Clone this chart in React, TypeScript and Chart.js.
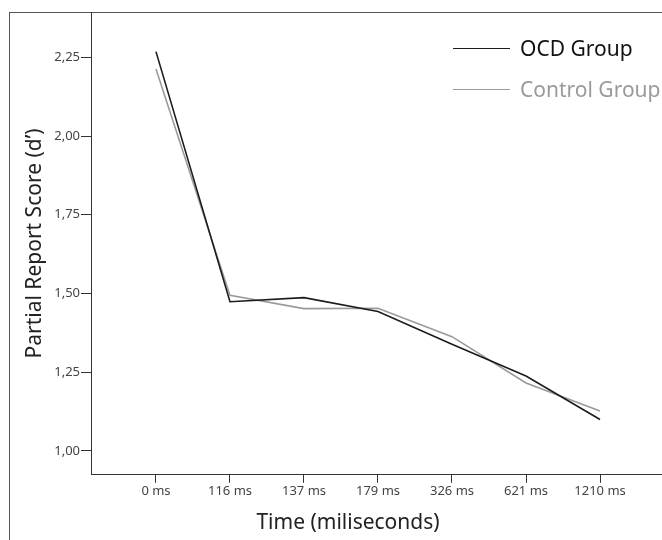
import React, { useEffect, useRef } from "react";
import { Chart, registerables } from "chart.js";

Chart.register(...registerables);

// ---- data ----
const categories = ["0 ms", "116 ms", "137 ms", "179 ms", "326 ms", "621 ms", "1210 ms"];
const ocdValues = [2.268, 1.474, 1.487, 1.443, 1.339, 1.238, 1.1];
const controlValues = [2.213, 1.494, 1.452, 1.453, 1.363, 1.216, 1.127];
const yTickValues = [1.0, 1.25, 1.5, 1.75, 2.0, 2.25];
const seriesLabels = ["OCD Group", "Control Group"];
const seriesColors = ["#1c1c1c", "#9a9a9a"];
const xAxisTitle = "Time (miliseconds)";
const yAxisTitle = "Partial Report Score (d\u2019)";

// ---- scale ranges ----
const X_MIN = -0.878;
const X_MAX = 7.162;
const Y_MIN = 0.9244;
const Y_MAX = 2.3938;

const FONT = "'Noto Sans', sans-serif";

export default function App() {
  const ref = useRef<HTMLCanvasElement>(null);

  useEffect(() => {
    const canvas = ref.current;
    if (!canvas) return;
    const chart = new Chart(canvas, {
      type: "line",
      data: {
        datasets: [
          {
            label: seriesLabels[0],
            data: ocdValues.map((y, i) => ({ x: i, y })),
            borderColor: seriesColors[0],
            backgroundColor: seriesColors[0],
            borderWidth: 1.6,
            pointRadius: 0,
            fill: false,
            tension: 0,
          },
          {
            label: seriesLabels[1],
            data: controlValues.map((y, i) => ({ x: i, y })),
            borderColor: seriesColors[1],
            backgroundColor: seriesColors[1],
            borderWidth: 1.6,
            pointRadius: 0,
            fill: false,
            tension: 0,
          },
        ],
      },
      options: {
        animation: false,
        responsive: false,
        devicePixelRatio: 1,
        layout: { padding: { left: 10, top: 12, right: 0, bottom: 0 } },
        plugins: {
          legend: { display: false },
          tooltip: { enabled: false },
          title: {
            display: true,
            position: "bottom",
            align: "center",
            text: xAxisTitle,
            color: "#222",
            font: { family: FONT, size: 21, weight: "normal", lineHeight: 1.2 },
            padding: { top: 0, bottom: 4 },
          },
        },
        scales: {
          x: {
            type: "linear",
            min: X_MIN,
            max: X_MAX,
            afterBuildTicks: (s: any) => {
              s.ticks = categories.map((_, i) => ({ value: i }));
            },
            afterFit: (s: any) => {
              s.height = 36;
            },
            ticks: {
              callback: (v: any) => categories[Number(v)] ?? "",
              color: "#444",
              font: { family: FONT, size: 13 },
              padding: 1,
              maxRotation: 0,
              autoSkip: false,
            },
            grid: { drawOnChartArea: false, drawTicks: true, tickLength: 8, color: "#333" },
            border: { display: true, color: "#333", width: 1 },
          },
          y: {
            type: "linear",
            min: Y_MIN,
            max: Y_MAX,
            afterBuildTicks: (s: any) => {
              s.ticks = yTickValues.map((value) => ({ value }));
            },
            afterFit: (s: any) => {
              s.width = 81;
            },
            ticks: {
              callback: (v: any) => Number(v).toFixed(2).replace(".", ","),
              color: "#444",
              font: { family: FONT, size: 13 },
              padding: 1,
              autoSkip: false,
            },
            grid: { drawOnChartArea: false, drawTicks: true, tickLength: 10, color: "#333" },
            border: { display: true, color: "#333", width: 1 },
            title: {
              display: true,
              text: yAxisTitle,
              color: "#222",
              font: { family: FONT, size: 21, weight: "normal", lineHeight: 1.2 },
              padding: { top: 12, bottom: 0 },
            },
          },
        },
      },
    } as any);
    return () => chart.destroy();
  }, []);

  return (
    <div
      style={{
        position: "absolute",
        left: 0,
        top: 0,
        width: 662,
        height: 540,
        overflow: "hidden",
        background: "#fff",
      }}
    >
      <div
        style={{
          position: "absolute",
          left: 9,
          top: 12,
          width: 800,
          height: 800,
          borderLeft: "1px solid #555",
          borderTop: "1px solid #555",
        }}
      />
      <canvas
        ref={ref}
        width={686}
        height={540}
        style={{ position: "absolute", left: 0, top: 0, width: 686, height: 540 }}
      />
      {seriesLabels.map((label, i) => (
        <React.Fragment key={label}>
          <div
            style={{
              position: "absolute",
              left: 453,
              top: 48 + i * 41,
              width: 57,
              height: 0,
              borderTop: `1.6px solid ${seriesColors[i]}`,
            }}
          />
          <div
            style={{
              position: "absolute",
              left: 520,
              top: 35 + i * 41,
              fontFamily: FONT,
              fontSize: 21,
              lineHeight: "26px",
              color: i === 0 ? "#111" : seriesColors[i],
              whiteSpace: "nowrap",
            }}
          >
            {label}
          </div>
        </React.Fragment>
      ))}
    </div>
  );
}
